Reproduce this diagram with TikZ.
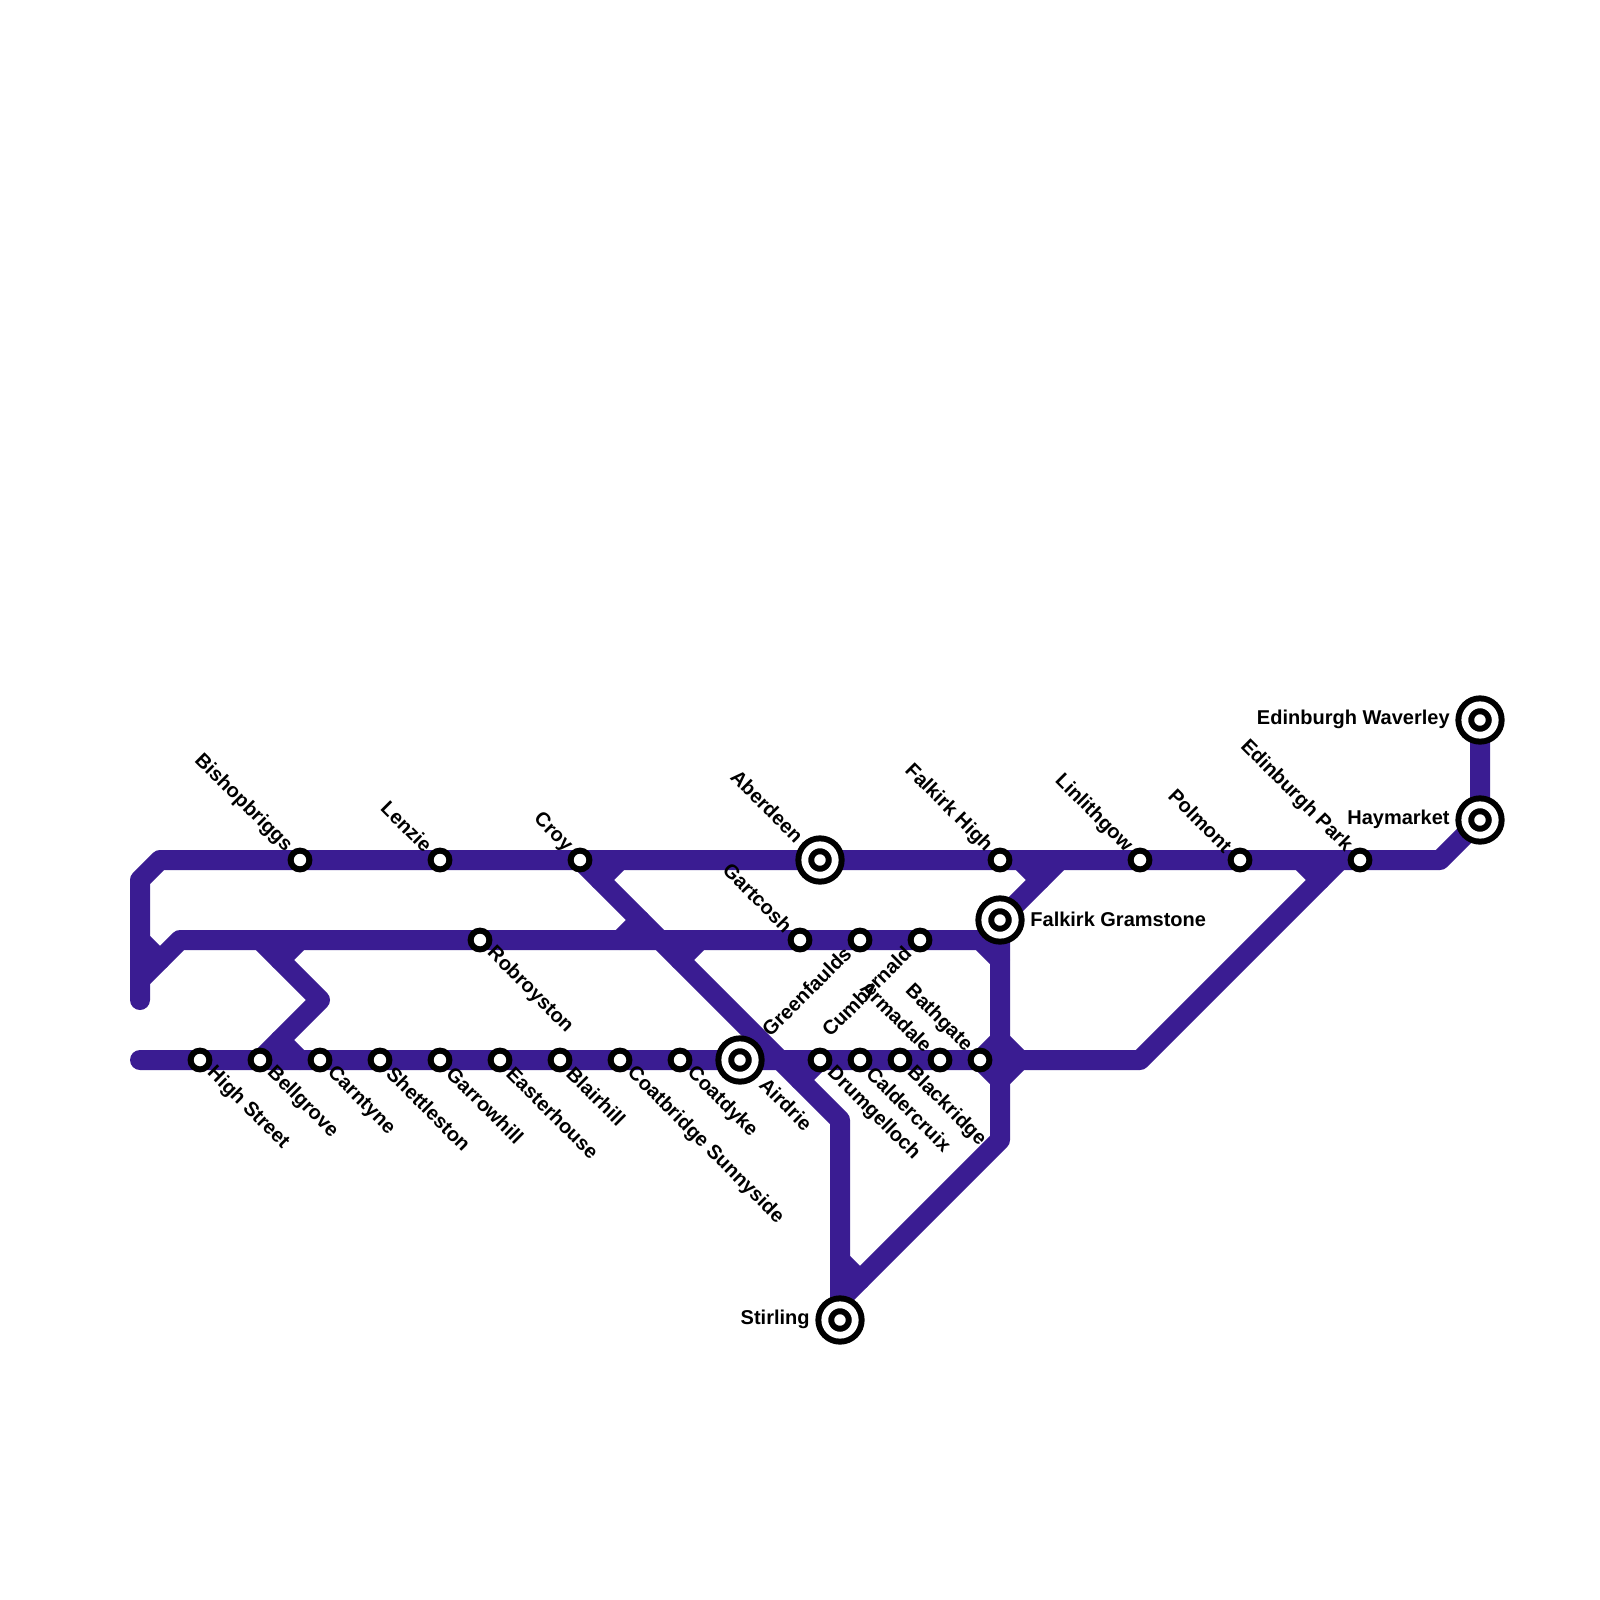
\documentclass[tikz,border=0pt]{standalone}
\usepackage{fontspec}
\setmainfont{Liberation Sans}
\usetikzlibrary{backgrounds}
\definecolor{lineblue}{HTML}{3A1C92}
\begin{document}
\begin{tikzpicture}[font=\fontsize{10}{12}\selectfont\bfseries,x=.5pt,y=-.5pt,
  metro/.style={draw=lineblue,line width=10pt,line join=round,line cap=round},
  stop/.style={circle,draw=black,fill=white,line width=3pt,minimum size=9.4pt,inner sep=0pt,outer sep=0pt},
  hub/.style={circle,draw=black,fill=white,line width=3pt,double=white,double distance=3.4pt,minimum size=15.2pt,inner sep=0pt,outer sep=0pt},
  lblse/.style={shift={(10,10)},rotate=-45,anchor=west,inner sep=0pt},
  lblnw/.style={shift={(-11,-11)},rotate=-45,anchor=east,inner sep=0pt},
  lblsw/.style={shift={(-12,10)},rotate=45,anchor=east,inner sep=0pt}]
\useasboundingbox (0,0) rectangle (1600,1600);
% stations, top line
\node[stop] at (300,860) (bishopbriggs) {};\node[stop] at (440,860) (lenzie) {};
\node[stop] at (580,860) (croy) {};\node[hub] at (820,860) (aberdeen) {};
\node[stop] at (1000,860) (falkirkhigh) {};\node[stop] at (1140,860) (linlithgow) {};
\node[stop] at (1240,860) (polmont) {};\node[stop] at (1360,860) (edinpark) {};
\node[hub] at (1480,820) (haymarket) {};\node[hub] at (1480,720) (waverley) {};
% stations, middle line
\node[stop] at (480,940) (robroyston) {};\node[stop] at (800,940) (gartcosh) {};
\node[stop] at (860,940) (greenfaulds) {};\node[stop] at (920,940) (cumbernald) {};
\node[hub] at (1000,920) (gramstone) {};
% stations, bottom line
\node[stop] at (200,1060) (highst) {};\node[stop] at (260,1060) (bellgrove) {};
\node[stop] at (320,1060) (carntyne) {};\node[stop] at (380,1060) (shettleston) {};
\node[stop] at (440,1060) (garrowhill) {};\node[stop] at (500,1060) (easterhouse) {};
\node[stop] at (560,1060) (blairhill) {};\node[stop] at (620,1060) (sunnyside) {};
\node[stop] at (680,1060) (coatdyke) {};\node[hub] at (740,1060) (airdrie) {};
\node[stop] at (820,1060) (drumgelloch) {};\node[stop] at (860,1060) (caldercruix) {};
\node[stop] at (900,1060) (blackridge) {};\node[stop] at (940,1060) (armadale) {};
\node[stop] at (980,1060) (bathgate) {};\node[hub] at (840,1320) (stirling) {};
% bends
\coordinate (a1) at (140,1000);\coordinate (a2) at (140,880);\coordinate (a3) at (160,860);
\coordinate (a4) at (1440,860);\coordinate (b1) at (140,980);\coordinate (b2) at (180,940);
\coordinate (b3) at (980,940);\coordinate (b4) at (1000,960);\coordinate (b5) at (1000,1140);
\coordinate (b6) at (840,1300);\coordinate (c1) at (140,1060);\coordinate (c2) at (1140,1060);
\coordinate (c3) at (1340,860);\coordinate (d1) at (840,1120);\coordinate (e1) at (260,940);
\coordinate (e2) at (320,1000);
\begin{pgfonlayer}{background}
\draw[metro] (a1)--(a2)--(a3)--(bishopbriggs.center)--(lenzie.center)--(croy.center)--(aberdeen.center)--(falkirkhigh.center)--(linlithgow.center)--(polmont.center)--(edinpark.center)--(a4)--(haymarket.center)--(waverley.center);
\draw[metro] (b1)--(b2)--(robroyston.center)--(gartcosh.center)--(greenfaulds.center)--(cumbernald.center)--(b3)--(b4)--(b5)--(b6);
\draw[metro] (c1)--(highst.center)--(bellgrove.center)--(carntyne.center)--(shettleston.center)--(garrowhill.center)--(easterhouse.center)--(blairhill.center)--(sunnyside.center)--(coatdyke.center)--(airdrie.center)--(drumgelloch.center)--(caldercruix.center)--(blackridge.center)--(armadale.center)--(bathgate.center)--(c2)--(c3);
\draw[metro] (croy.center)--(d1)--(stirling.center);
\draw[metro] (e1)--(e2)--(bellgrove.center);
\draw[metro] (1060,860)--(gramstone.center)--(b4);
% short links at the junctions
\draw[metro] (140,940)--(160,960);
\draw[metro] (300,940)--(280,960);\draw[metro] (280,1040)--(300,1060);
\draw[metro] (600,880)--(620,860);\draw[metro] (620,940)--(640,920);
\draw[metro] (700,940)--(680,960);\draw[metro] (820,1060)--(800,1080);
\draw[metro] (1020,860)--(1040,880);\draw[metro] (1300,860)--(1320,880);
\draw[metro] (840,1260)--(860,1280);
\draw[metro] (bathgate.center)--(1000,1040)--(1020,1060)--(1000,1080)--(bathgate.center);
\end{pgfonlayer}
% labels
\node[lblnw] at (bishopbriggs) (lbishopbriggs) {Bishopbriggs};
\node[lblnw] at (lenzie) (llenzie) {Lenzie};
\node[lblnw] at (croy) (lcroy) {Croy};
\node[shift={(-9,-10)},lblnw] at (aberdeen) (laberdeen) {Aberdeen};
\node[lblnw] at (falkirkhigh) (lfalkirkhigh) {Falkirk High};
\node[lblnw] at (linlithgow) (llinlithgow) {Linlithgow};
\node[lblnw] at (polmont) (lpolmont) {Polmont};
\node[lblnw] at (edinpark) (ledinpark) {Edinburgh Park};
\node[lblnw] at (gartcosh) (lgartcosh) {Gartcosh};
\node[lblnw] at (armadale) (larmadale) {Armadale};
\node[lblnw] at (bathgate) (lbathgate) {Bathgate};
\node[lblsw] at (greenfaulds) (lgreenfaulds) {Greenfaulds};
\node[lblsw] at (cumbernald) (lcumbernald) {Cumbernald};
\node[lblse] at (robroyston) (lrobroyston) {Robroyston};
\node[lblse] at (highst) (lhighst) {High Street};
\node[lblse] at (bellgrove) (lbellgrove) {Bellgrove};
\node[lblse] at (carntyne) (lcarntyne) {Carntyne};
\node[lblse] at (shettleston) (lshettleston) {Shettleston};
\node[lblse] at (garrowhill) (lgarrowhill) {Garrowhill};
\node[lblse] at (easterhouse) (leasterhouse) {Easterhouse};
\node[lblse] at (blairhill) (lblairhill) {Blairhill};
\node[lblse] at (sunnyside) (lsunnyside) {Coatbridge Sunnyside};
\node[lblse] at (coatdyke) (lcoatdyke) {Coatdyke};
\node[shift={(13,11)},lblse] at (airdrie) (lairdrie) {Airdrie};
\node[lblse] at (drumgelloch) (ldrumgelloch) {Drumgelloch};
\node[lblse] at (caldercruix) (lcaldercruix) {Caldercruix};
\node[lblse] at (blackridge) (lblackridge) {Blackridge};
\node[anchor=west,inner sep=0pt] at (1030,919) (lgramstone) {Falkirk Gramstone};
\node[anchor=east,inner sep=0pt] at (810,1319) (lstirling) {Stirling};
\node[anchor=east,inner sep=0pt] at (1450,819) (lhaymarket) {Haymarket};
\node[anchor=east,inner sep=0pt] at (1450,719) (lwaverley) {Edinburgh Waverley};
\end{tikzpicture}
\end{document}
